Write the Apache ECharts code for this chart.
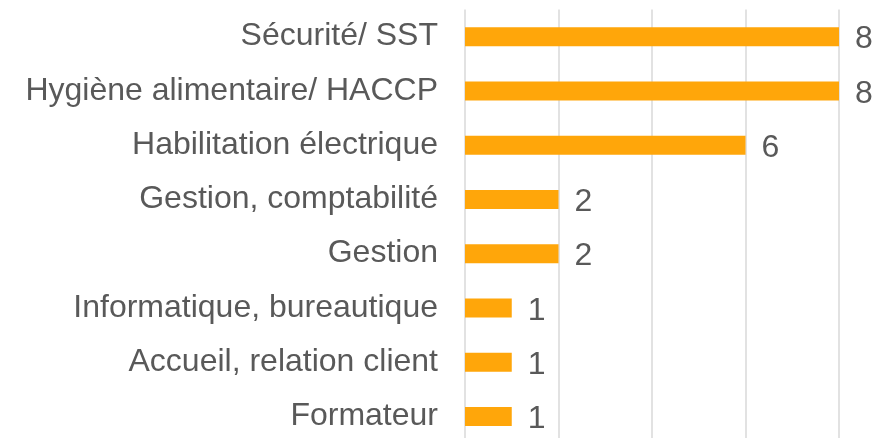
<!DOCTYPE html>
<html><head><meta charset="utf-8">
<script src="https://cdn.jsdelivr.net/npm/echarts@6/dist/echarts.min.js"></script>
<style>html,body{margin:0;padding:0;background:#fff}#c{width:884px;height:438px}</style>
</head><body><div id="c"></div>
<script>
const categories = ["Sécurité/ SST","Hygiène alimentaire/ HACCP","Habilitation électrique","Gestion, comptabilité","Gestion","Informatique, bureautique","Accueil, relation client","Formateur"];
const values = [8,8,6,2,2,1,1,1];
const chart = echarts.init(document.getElementById('c'));
chart.setOption({
  animation:false,
  grid:{left:465,right:45,top:9.5,height:434,containLabel:false,outerBoundsMode:'none'},
  xAxis:{type:'value',min:0,max:8,interval:2,axisLabel:{show:false},axisLine:{show:false},axisTick:{show:false},
    splitLine:{show:true,lineStyle:{color:'#d9d9d9',width:1.5}}},
  yAxis:{type:'category',inverse:true,data:categories,axisLine:{show:false},axisTick:{show:false},
    axisLabel:{color:'#595959',fontFamily:'Liberation Sans, Arial, sans-serif',fontSize:32,margin:27}},
  series:[{type:'bar',data:values,barWidth:19,itemStyle:{color:'#FFA60A'},
    label:{show:true,position:'right',distance:16,offset:[0,3],color:'#595959',fontFamily:'Liberation Sans, Arial, sans-serif',fontSize:32}}]
});
</script></body></html>
